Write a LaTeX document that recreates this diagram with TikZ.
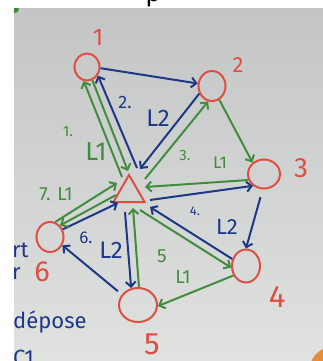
\documentclass[tikz,border=0pt]{standalone}
\usepackage{fontspec}
\setmainfont{Fira Sans}
\usetikzlibrary{arrows.meta,shapes.geometric}
\definecolor{redm}{RGB}{222,78,66}
\definecolor{bluem}{RGB}{30,56,135}
\definecolor{greenm}{RGB}{66,140,62}
\definecolor{boardtop}{RGB}{196,198,198}
\definecolor{boardbot}{RGB}{224,226,224}
\definecolor{orangem}{RGB}{226,140,60}
\tikzset{
  circ/.style={ellipse, draw=redm, line width=2pt, inner sep=0pt},
  tri/.style={regular polygon, regular polygon sides=3, minimum size=36pt, inner sep=0pt, draw=redm, line width=2pt},
  be/.style={draw=bluem, line width=2pt, -{Straight Barb[length=5pt,width=10pt]}},
  ge/.style={draw=greenm, line width=2pt, -{Straight Barb[length=5pt,width=10pt]}},
  numlab/.style={text=redm, inner sep=0pt},
  elab/.style={inner sep=0pt},
  fs/.style={font=\fontsize{#1}{#1}\selectfont}
}
\begin{document}
\begin{tikzpicture}[x=1pt,y=-1pt]
\useasboundingbox (0,0) rectangle (323,361);
\clip (0,0) rectangle (323,361);
\fill[white] (0,0) rectangle (323,361);
\shade[top color=boardtop, bottom color=boardbot] (14,9) rectangle (323,361);
\begin{scope}
\clip (14,9) rectangle (323,361);
\fill[greenm] (15,9) circle (4);
\fill[orangem] (335,372) circle (26);
\end{scope}
\node[anchor=base, fs=26, inner sep=0pt] (ptop) at (153,2) {p};

% nodes
\node[circ, minimum width=25pt, minimum height=27pt] (n1) at (87,67) {};
\node[circ, minimum width=27pt, minimum height=30pt] (n2) at (212,86) {};
\node[circ, minimum width=32pt, minimum height=29pt] (n3) at (264,174) {};
\node[circ, minimum width=28pt, minimum height=33pt] (n4) at (246,266) {};
\node[circ, minimum width=38pt, minimum height=34pt] (n5) at (138,305) {};
\node[circ, minimum width=27pt, minimum height=30pt] (n6) at (50,237) {};
\node[tri] (t) at (129,193) {};

% node numbers
\node[numlab, fs=24] (l1) at (98,37) {1};
\node[numlab, fs=22] (l2) at (238,65) {2};
\node[numlab, fs=28] (l3) at (301,168) {3};
\node[numlab, fs=31] (l4) at (277,297) {4};
\node[numlab, fs=31] (l5) at (152,344) {5};
\node[numlab, fs=29] (l6) at (42,272) {6};

% blue edges
\draw[be] (n1.-5) -- (n2.170);
\draw[be] (n2.-149) -- ([shift={(11,-24)}]t.center);
\draw[be] ([shift={(8,-25)}]t.center) -- (n1.-38);
\draw[be] ([shift={(21,7)}]t.center) -- (n3.-133);
\draw[be, shorten <=8pt] (n3.-95) -- (n4.90);
\draw[be] (n4.153) -- ([shift={(21,14)}]t.center);
\draw[be] ([shift={(-4,19)}]t.center) -- (n5.112);
\draw[be, shorten <=5pt] (n5.147) -- (n6.-34);
\draw[be] (n6.31) -- ([shift={(-11,10)}]t.center);

% green edges
\draw[ge] ([shift={(-7,-16)}]t.center) -- (n1.-103);
\draw[ge] (n1.-68) -- ([shift={(-1,-22)}]t.center);
\draw[ge] ([shift={(16,-14)}]t.center) -- (n2.-104);
\draw[ge] (n2.-62) -- (n3.135);
\draw[ge] (n3.201) -- ([shift={(16,-6)}]t.center);
\draw[ge] ([shift={(11,17)}]t.center) -- (n4.186);
\draw[ge] (n4.217) -- (n5.-3);
\draw[ge] (n5.87) -- ([shift={(4,15)}]t.center);
\draw[ge] (n6.71) -- ([shift={(-12,-10)}]t.center);
\draw[ge] ([shift={(-13,2)}]t.center) -- (n6.49);

% edge labels
\node[elab, text=greenm, fs=15] (e1a) at (68,132) {1.};
\node[elab, text=greenm, fs=26] (e1b) at (96,152) {L1};
\node[elab, text=bluem, fs=18] (e2a) at (125,102) {2.};
\node[elab, text=bluem, fs=24] (e2b) at (158,118) {L2};
\node[elab, text=greenm, fs=15] (e3a) at (185,155) {3.};
\node[elab, text=greenm, fs=17] (e3b) at (220,163) {L1};
\node[elab, text=bluem, fs=13] (e4a) at (195,211) {4.};
\node[elab, text=bluem, fs=22] (e4b) at (227,227) {L2};
\node[elab, text=greenm, fs=19] (e5a) at (162,256) {5};
\node[elab, text=greenm, fs=19] (e5b) at (183,277) {L1};
\node[elab, text=bluem, fs=17] (e6a) at (86,238) {6.};
\node[elab, text=bluem, fs=24] (e6b) at (111,250) {L2};
\node[elab, text=greenm, fs=19] (e7) at (56,194) {7. L1};

% cut text on left
\node[anchor=west, text=bluem, fs=22, inner sep=0pt] (trt) at (12,250) {rt};
\node[anchor=west, text=bluem, fs=22, inner sep=0pt] (tr) at (12,274) {r};
\node[anchor=west, text=bluem, fs=22, inner sep=0pt] (tdep) at (13,322) {dépose};
\node[anchor=north west, text=bluem, fs=22, inner sep=0pt] (tc) at (13,350) {C1};
\end{tikzpicture}
\end{document}
